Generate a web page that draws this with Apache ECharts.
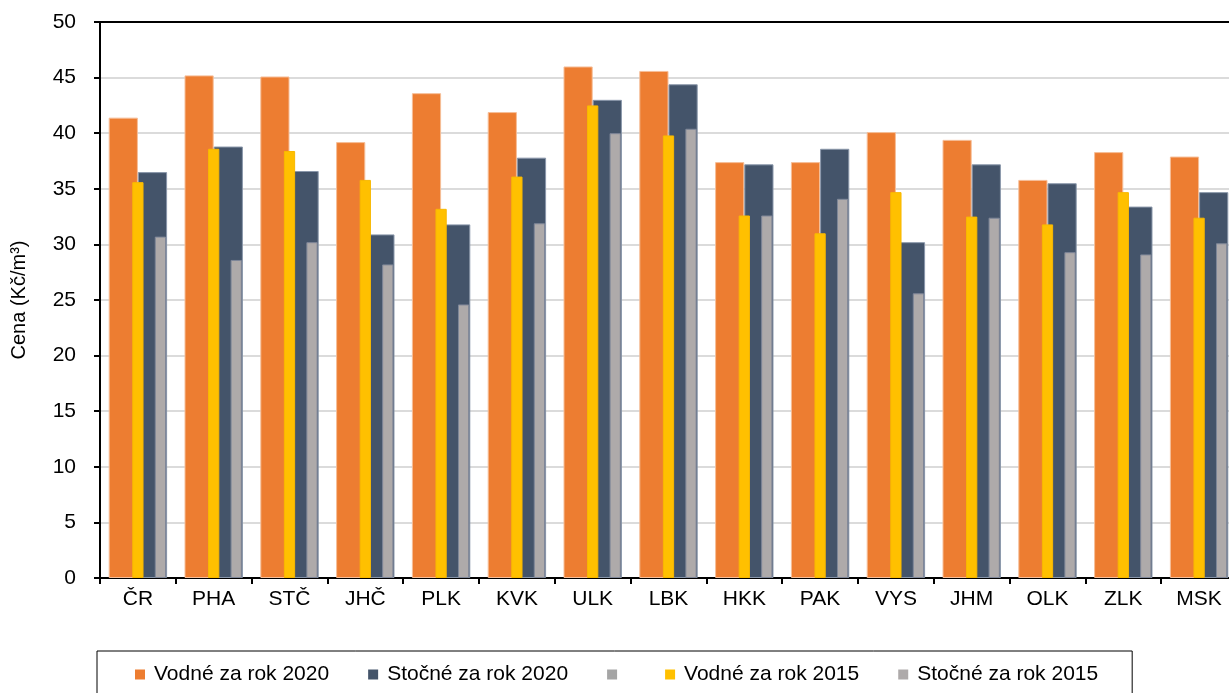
<!DOCTYPE html>
<html>
<head>
<meta charset="utf-8">
<script src="https://cdn.jsdelivr.net/npm/echarts@6/dist/echarts.min.js"></script>
<style>
  html, body { margin: 0; padding: 0; background: #fff; }
  #chart { width: 1229px; height: 693px; }
</style>
</head>
<body>
<div id="chart"></div>
<script>
const categories = ['ČR','PHA','STČ','JHČ','PLK','KVK','ULK','LBK','HKK','PAK','VYS','JHM','OLK','ZLK','MSK'];
const vodne2020 = [41.4, 45.2, 45.1, 39.2, 43.6, 41.9, 46.0, 45.6, 37.4, 37.4, 40.1, 39.4, 35.8, 38.3, 37.9];
const stocne2020 = [36.5, 38.8, 36.6, 30.9, 31.8, 37.8, 43.0, 44.4, 37.2, 38.6, 30.2, 37.2, 35.5, 33.4, 34.7];
const vodne2015 = [35.6, 38.6, 38.4, 35.8, 33.2, 36.1, 42.5, 39.8, 32.6, 31.0, 34.7, 32.5, 31.8, 34.7, 32.4];
const stocne2015 = [30.7, 28.6, 30.2, 28.2, 24.6, 31.9, 40.0, 40.4, 32.6, 34.1, 25.6, 32.4, 29.3, 29.1, 30.1];
const emptySeries = categories.map(() => null);
const yTicks = [0, 5, 10, 15, 20, 25, 30, 35, 40, 45, 50];
const blankName = '\u200b';

const FONT = '"Liberation Sans", Arial, sans-serif';
const chart = echarts.init(document.getElementById('chart'), null, { renderer: 'canvas' });

const wide = 29.2, narrow = 11.25;
function bar(name, data, color, border, axis, width) {
  return {
    name: name, type: 'bar', data: data, xAxisIndex: axis,
    barWidth: width, barGap: '0%',
    itemStyle: { color: color, borderColor: border, borderWidth: border ? 1 : 0 },
    emphasis: { disabled: true }
  };
}

chart.setOption({
  animation: false,
  backgroundColor: '#ffffff',
  textStyle: { fontFamily: FONT },
  grid: { left: 100, top: 22, right: -8, bottom: 115, containLabel: false, outerBoundsMode: 'none' },
  legend: {
    data: ['Vodné za rok 2020', 'Stočné za rok 2020', blankName, 'Vodné za rok 2015', 'Stočné za rok 2015'],
    left: 97, top: 651,
    padding: [13, 34, 40, 38],
    borderColor: '#000', borderWidth: 1,
    itemGap: 39, itemWidth: 10, itemHeight: 10, icon: 'rect',
    itemStyle: { borderWidth: 0 },
    selectedMode: false,
    textStyle: { fontSize: 21, color: '#000', fontFamily: FONT, padding: [0, 0, 0, 4] }
  },
  xAxis: [
    {
      type: 'category', data: categories, position: 'bottom',
      axisLine: { lineStyle: { color: '#000', width: 2 } },
      axisTick: { show: true, length: 6, lineStyle: { color: '#000', width: 2 } },
      axisLabel: { fontSize: 21, color: '#000', margin: 11, fontFamily: FONT },
      splitLine: { show: false }
    },
    {
      type: 'category', data: categories, position: 'top',
      axisLine: { show: true, lineStyle: { color: '#000', width: 2 } },
      axisTick: { show: false }, axisLabel: { show: false }, splitLine: { show: false }
    }
  ],
  yAxis: {
    type: 'value', min: 0, max: 50, interval: 5,
    name: 'Cena (Kč/m³)', nameLocation: 'middle', nameGap: 71,
    nameTextStyle: { fontSize: 20, color: '#000', fontFamily: FONT },
    axisLine: { show: true, lineStyle: { color: '#000', width: 2 } },
    axisTick: { show: true, length: 6, lineStyle: { color: '#000', width: 2 } },
    axisLabel: { fontSize: 21, color: '#000', margin: 24, fontFamily: FONT,
      formatter: v => (yTicks.indexOf(v) >= 0 ? String(v) : '') },
    splitLine: { show: true, lineStyle: { color: '#cfcfcf', width: 1.5 } }
  },
  series: [
    bar('Vodné za rok 2020', vodne2020, '#ED7D31', '#F6BE98', 0, wide),
    bar('Stočné za rok 2020', stocne2020, '#44546A', '#8A97AA', 0, wide),
    bar('pad0', emptySeries, '#ffffff', null, 1, narrow),
    bar('pad1', emptySeries, '#ffffff', null, 1, narrow),
    bar('Vodné za rok 2015', vodne2015, '#FFC000', '#F8B800', 1, narrow),
    bar(blankName, emptySeries, '#A5A5A5', null, 1, narrow),
    bar('Stočné za rok 2015', stocne2015, '#AEAAAA', '#7F8799', 1, narrow)
  ]
});
</script>
</body>
</html>
